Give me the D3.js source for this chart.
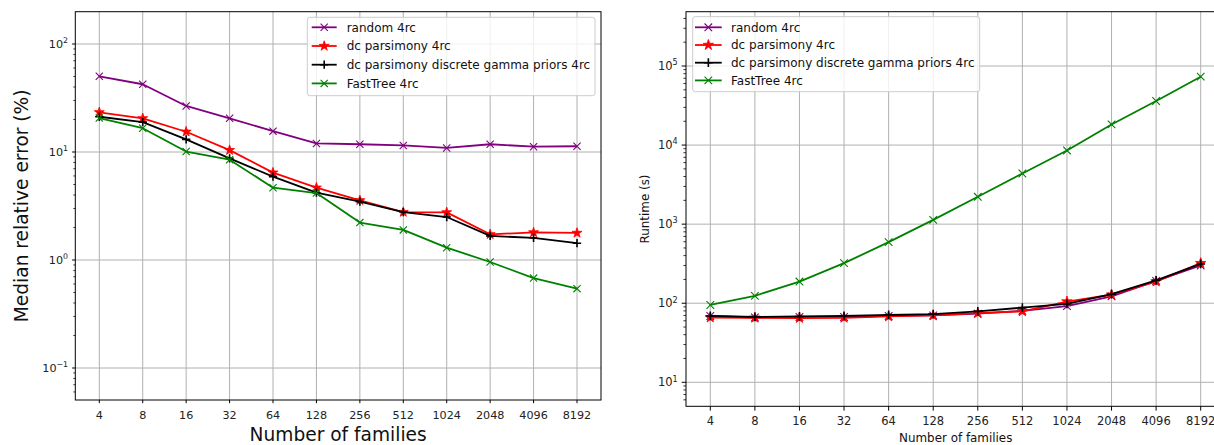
<!DOCTYPE html>
<html>
<head>
<meta charset="utf-8">
<script src="https://cdn.jsdelivr.net/npm/d3@7/dist/d3.min.js"></script>
<style>
  html, body { margin: 0; padding: 0; background: #fff; overflow: hidden; }
  svg { display: block; font-family: "DejaVu Sans", sans-serif; }
</style>
</head>
<body>
<svg id="chart" width="1214" height="445"></svg>
<script>
// ---------------- DATA ----------------
const families = [4, 8, 16, 32, 64, 128, 256, 512, 1024, 2048, 4096, 8192];
const familyLabels = ["4", "8", "16", "32", "64", "128", "256", "512", "1024", "2048", "4096", "8192"];
const seriesNames = ["random 4rc", "dc parsimony 4rc", "dc parsimony discrete gamma priors 4rc", "FastTree 4rc"];

// Left panel: median relative error (%)
const errorRandom    = [50.2, 42.4, 26.7, 20.5, 15.6, 12.0, 11.8, 11.5, 10.9, 11.8, 11.2, 11.3];
const errorDc        = [23.3, 20.5, 15.4, 10.4, 6.44, 4.67, 3.57, 2.78, 2.76, 1.73, 1.80, 1.78];
const errorDcGamma   = [21.2, 18.9, 13.1, 8.74, 5.91, 4.20, 3.47, 2.78, 2.50, 1.67, 1.60, 1.43];
const errorFastTree  = [20.6, 16.6, 10.1, 8.49, 4.67, 4.17, 2.22, 1.90, 1.30, 0.958, 0.68, 0.543];
const errorTickExps  = [-1, 0, 1, 2];

// Right panel: runtime (s)
const runtimeRandom   = [69, 66, 67, 67, 69, 70, 74, 80, 92, 122, 192, 300];
const runtimeDc       = [66, 65.5, 65, 65.5, 68, 70, 75, 79, 105, 128, 188, 321];
const runtimeDcGamma  = [69, 67, 68, 69, 71, 73, 79, 88, 98, 130, 195, 314];
const runtimeFastTree = [95, 124, 188, 321, 592, 1133, 2218, 4375, 8550, 18240, 36060, 73300];
const runtimeTickExps = [1, 2, 3, 4, 5];

// ---------------- STYLE ----------------
const colors = ["#800080", "#ff0000", "#000000", "#008000"];
const markers = ["x", "star", "plus", "x"];

const svg = d3.select("#chart");

function markerPath(type, r) {
  if (type === "x") {
    return `M${-r},${-r}L${r},${r}M${-r},${r}L${r},${-r}`;
  }
  if (type === "plus") {
    return `M${-r},0L${r},0M0,${-r}L0,${r}`;
  }
  return null;
}

function drawMarker(g, type, color, x, y, r) {
  if (type === "star") {
    const sym = d3.symbol().type(d3.symbolStar).size(r * r * 2.4);
    g.append("path").attr("d", sym()).attr("transform", `translate(${x},${y})`)
      .attr("fill", color).attr("stroke", color).attr("stroke-width", 0.8);
  } else {
    g.append("path").attr("d", markerPath(type, type === "plus" ? r * 1.15 : r))
      .attr("transform", `translate(${x},${y})`)
      .attr("fill", "none").attr("stroke", color)
      .attr("stroke-width", type === "plus" ? 1.6 : 1.1);
  }
}

function supLabel(sel, exp, fontSize) {
  sel.append("tspan").text("10");
  sel.append("tspan")
    .attr("dy", -fontSize * 0.42)
    .attr("font-size", fontSize * 0.7)
    .text(exp < 0 ? "\u2212" + Math.abs(exp) : String(exp));
}

function panel(cfg) {
  const g = svg.append("g");
  const x = d3.scaleLog().base(2).domain([families[0], families[families.length - 1]])
    .range([cfg.x4, cfg.x8192]);
  const y = d3.scaleLog().domain([Math.pow(10, cfg.yExpLo), Math.pow(10, cfg.yExpHi)])
    .range([cfg.yLoPx, cfg.yHiPx]);

  const L = cfg.left, R = cfg.right, T = cfg.top, B = cfg.bottom;

  // clip for plot area
  const clipId = "clip" + cfg.id;
  svg.append("clipPath").attr("id", clipId).append("rect")
    .attr("x", L).attr("y", T).attr("width", R - L).attr("height", B - T);

  // grid
  const grid = g.append("g").attr("stroke", "#b0b0b0").attr("stroke-width", 1);
  families.forEach(f => {
    grid.append("line").attr("x1", x(f)).attr("x2", x(f)).attr("y1", T).attr("y2", B);
  });
  cfg.tickExps.forEach(e => {
    const v = Math.pow(10, e);
    grid.append("line").attr("x1", L).attr("x2", R).attr("y1", y(v)).attr("y2", y(v));
  });

  // series
  const plot = g.append("g").attr("clip-path", `url(#${clipId})`);
  cfg.series.forEach((vals, i) => {
    const line = d3.line().x((d, j) => x(families[j])).y(d => y(d));
    plot.append("path").datum(vals).attr("d", line)
      .attr("fill", "none").attr("stroke", colors[i]).attr("stroke-width", cfg.lw)
      .attr("stroke-linejoin", "round");
    vals.forEach((v, j) => drawMarker(plot, markers[i], colors[i], x(families[j]), y(v), cfg.mr));
  });

  // frame
  g.append("rect").attr("x", L).attr("y", T).attr("width", R - L).attr("height", B - T)
    .attr("fill", "none").attr("stroke", "#000").attr("stroke-width", 1);

  // x ticks
  const xt = g.append("g");
  families.forEach((f, j) => {
    xt.append("line").attr("x1", x(f)).attr("x2", x(f)).attr("y1", B).attr("y2", B + cfg.tickLen)
      .attr("stroke", "#000").attr("stroke-width", 1);
    xt.append("text").attr("x", x(f)).attr("y", cfg.xTickBaseline)
      .attr("text-anchor", "middle").attr("font-size", cfg.tickFont).attr("fill", "#222")
      .text(familyLabels[j]);
  });

  // y ticks (major + minor)
  const yt = g.append("g");
  cfg.tickExps.forEach(e => {
    const v = Math.pow(10, e);
    yt.append("line").attr("x1", L - cfg.tickLen).attr("x2", L).attr("y1", y(v)).attr("y2", y(v))
      .attr("stroke", "#000").attr("stroke-width", 1);
    const t = yt.append("text").attr("x", L - cfg.tickLen - 4).attr("y", y(v) + cfg.tickFont * 0.36)
      .attr("text-anchor", "end").attr("font-size", cfg.tickFont).attr("fill", "#222");
    supLabel(t, e, cfg.tickFont);
  });
  for (let e = cfg.tickExps[0] - 1; e <= cfg.tickExps[cfg.tickExps.length - 1]; e++) {
    for (let m = 2; m <= 9; m++) {
      const v = m * Math.pow(10, e);
      const py = y(v);
      if (py > T + 0.5 && py < B - 0.5) {
        yt.append("line").attr("x1", L - cfg.tickLen * 0.6).attr("x2", L).attr("y1", py).attr("y2", py)
          .attr("stroke", "#000").attr("stroke-width", 0.8);
      }
    }
  }

  // axis labels
  g.append("text").attr("x", (L + Math.min(R, 1225.5)) / 2).attr("y", cfg.xLabelBaseline)
    .attr("text-anchor", "middle").attr("font-size", cfg.labelFont).attr("fill", "#111")
    .text("Number of families");
  g.append("text")
    .attr("transform", `translate(${cfg.yLabelX},${(T + B) / 2}) rotate(-90)`)
    .attr("text-anchor", "middle").attr("font-size", cfg.labelFont).attr("fill", "#111")
    .text(cfg.yLabel);

  // legend
  const lg = g.append("g");
  lg.append("rect").attr("x", cfg.legX).attr("y", cfg.legY).attr("width", cfg.legW).attr("height", cfg.legH)
    .attr("rx", 2.5).attr("fill", "#fff").attr("fill-opacity", 0.8)
    .attr("stroke", "#cccccc").attr("stroke-width", 1);
  seriesNames.forEach((name, i) => {
    const ry = cfg.legRow0 + i * cfg.legRowStep;
    lg.append("line").attr("x1", cfg.legHandleX0).attr("x2", cfg.legHandleX1).attr("y1", ry).attr("y2", ry)
      .attr("stroke", colors[i]).attr("stroke-width", cfg.lw);
    drawMarker(lg, markers[i], colors[i], (cfg.legHandleX0 + cfg.legHandleX1) / 2, ry, cfg.mr);
    lg.append("text").attr("x", cfg.legTextX).attr("y", ry + 4.3)
      .attr("font-size", 12).attr("fill", "#111").text(name);
  });
}

panel({
  id: "L", left: 75.3, right: 601, top: 11.7, bottom: 400,
  x4: 99.3, x8192: 577,
  yExpLo: -1, yExpHi: 2, yLoPx: 368, yHiPx: 44,
  tickExps: errorTickExps,
  series: [errorRandom, errorDc, errorDcGamma, errorFastTree],
  lw: 1.8, mr: 3.6, tickLen: 3.2, tickFont: 11.2,
  xTickBaseline: 419, xLabelBaseline: 441, labelFont: 18.6,
  yLabel: "Median relative error (%)", yLabelX: 28,
  legX: 307.3, legY: 17.3, legW: 287.7, legH: 78.4,
  legRow0: 27.3, legRowStep: 18.7, legHandleX0: 311.7, legHandleX1: 336.7, legTextX: 346.7
});

panel({
  id: "R", left: 686, right: 1225.5, top: 11.7, bottom: 406.3,
  x4: 710.3, x8192: 1200.7,
  yExpLo: 1, yExpHi: 5, yLoPx: 382.3, yHiPx: 66,
  tickExps: runtimeTickExps,
  series: [runtimeRandom, runtimeDc, runtimeDcGamma, runtimeFastTree],
  lw: 1.8, mr: 3.8, tickLen: 4.3, tickFont: 11.5,
  xTickBaseline: 425, xLabelBaseline: 441.5, labelFont: 11.9,
  yLabel: "Runtime (s)", yLabelX: 649,
  legX: 692.7, legY: 16.7, legW: 287, legH: 75,
  legRow0: 27.3, legRowStep: 17.7, legHandleX0: 695, legHandleX1: 721.7, legTextX: 731
});
</script>
</body>
</html>
